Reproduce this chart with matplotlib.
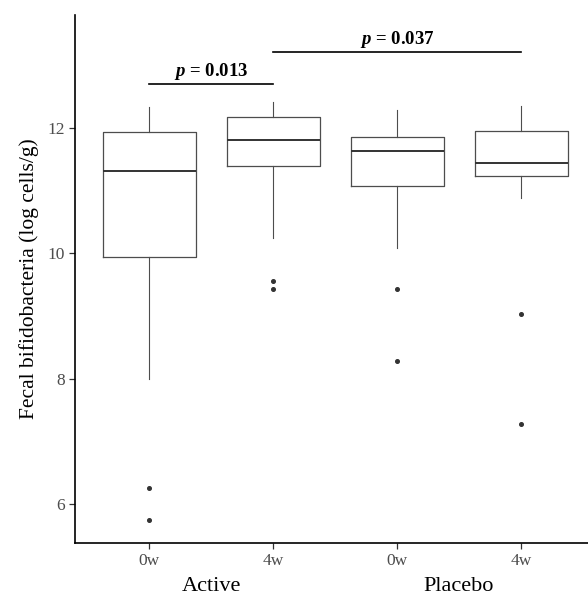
import matplotlib.pyplot as plt

plt.rcParams['font.family'] = ['Liberation Serif', 'DejaVu Serif']
plt.rcParams['mathtext.fontset'] = 'custom'
plt.rcParams['mathtext.it'] = 'Liberation Serif:italic:bold'
plt.rcParams['mathtext.rm'] = 'Liberation Serif:bold'

# values
labels = ['0w', '4w', '0w', '4w']
groups = ['Active', 'Placebo']
whislo = [8.00, 10.25, 10.08, 10.88]
q1 = [9.95, 11.40, 11.07, 11.24]
med = [11.32, 11.81, 11.63, 11.44]
q3 = [11.93, 12.18, 11.85, 11.95]
whishi = [12.33, 12.41, 12.29, 12.35]
fliers = [[6.26, 5.76], [9.56, 9.44], [9.43, 8.28], [9.03, 7.28]]

stats = []
for i in range(4):
    stats.append(dict(whislo=whislo[i], q1=q1[i], med=med[i], q3=q3[i],
                      whishi=whishi[i], fliers=fliers[i], label=labels[i]))

fig = plt.figure(figsize=(5.88, 5.95), dpi=100)
ax = fig.add_axes([75/588, 52/595, 513/588, 528/595])

box_c = '#4d4d4d'
ax.bxp(stats, positions=[1, 2, 3, 4], widths=0.75, showcaps=False,
       boxprops=dict(color=box_c, linewidth=0.9),
       whiskerprops=dict(color=box_c, linewidth=0.8),
       medianprops=dict(color='#333333', linewidth=1.4),
       flierprops=dict(marker='o', markersize=2.6, markerfacecolor='#333333',
                       markeredgecolor='#333333'))

ax.set_xlim(0.403, 4.54)
ax.set_ylim(5.386, 13.80)
ax.set_yticks([6, 8, 10, 12])
ax.tick_params(labelcolor='#4d4d4d', labelsize=12.5, length=4, width=0.9,
               color='#333333')
for s in ['top', 'right']:
    ax.spines[s].set_visible(False)
for s in ['left', 'bottom']:
    ax.spines[s].set_linewidth(1.2)
    ax.spines[s].set_color('black')

ax.set_ylabel('Fecal bifidobacteria (log cells/g)', fontsize=15.5, labelpad=6)

# group labels under the ticks
for j, g in enumerate(groups):
    ax.text(1.5 + 2 * j, -0.064, g, transform=ax.get_xaxis_transform(),
            ha='center', va='top', fontsize=16)

# significance brackets
ax.plot([1, 2], [12.70, 12.70], color='black', lw=1.2)
ax.text(1.5, 12.74, r'$p$ = 0.013', ha='center', va='bottom',
        fontsize=13.5, fontweight='bold')
ax.plot([2, 4], [13.21, 13.21], color='black', lw=1.2)
ax.text(3, 13.25, r'$p$ = 0.037', ha='center', va='bottom',
        fontsize=13.5, fontweight='bold')

fig.savefig('out.png', dpi=100)
